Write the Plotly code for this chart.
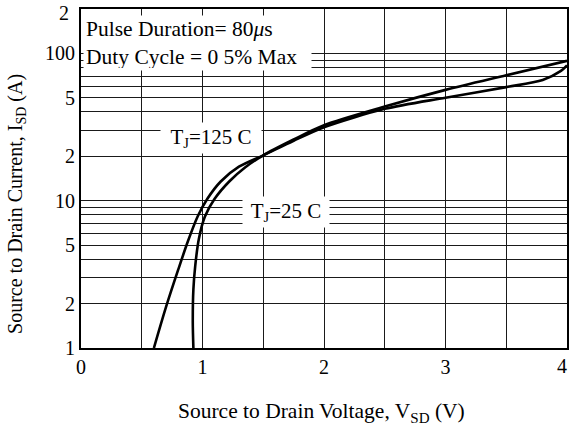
import plotly.graph_objects as go
import numpy as np

# Data
v_125 = [0.60, 0.70, 0.80, 0.88, 0.96, 1.04, 1.15, 1.30, 1.50, 1.75, 2.0, 2.5, 3.0, 3.5, 3.8, 3.95, 4.0]
i_125 = [1.0, 1.9, 3.4, 5.3, 7.8, 10.3, 13.5, 17.0, 20.3, 25.5, 31.5, 42.0, 50.0, 59.0, 66.0, 76.0, 83.0]

v_25 = [0.925, 0.92, 0.925, 0.94, 0.97, 1.02, 1.10, 1.22, 1.35, 1.50, 1.75, 2.0, 2.5, 3.0, 3.5, 4.0]
i_25 = [1.0, 1.5, 2.5, 3.6, 5.5, 7.8, 10.3, 13.5, 16.8, 20.3, 26.0, 32.5, 43.5, 56.5, 71.0, 89.0]

x_tickvals = [0, 0.5, 1, 1.5, 2, 2.5, 3, 3.5, 4]
x_ticktext = ["0", "", "1", "", "2", "", "3", "", ""]
x_edge_label = "4"   # drawn slightly inside the page, as in the reference

y_tickvals = [1, 2, 3, 4, 5, 6, 7, 8, 9, 10, 20, 30, 40, 50, 60, 70, 80, 90, 100, 200]
y_ticktext = ["1", "2", "", "", "5", "", "", "", "", "10", "2", "", "", "5", "", "", "", "", "100", ""]
y_edge_label = "2"   # label of 200, drawn slightly below the top edge, as in the reference

FONT = "Liberation Serif"
GRID = "#1a1a1a"

fig = go.Figure()
fig.add_trace(go.Scatter(x=v_125, y=i_125, mode="lines",
                         line=dict(color="black", width=2.6, shape="spline", smoothing=0.8),
                         showlegend=False, hoverinfo="skip"))
fig.add_trace(go.Scatter(x=v_25, y=i_25, mode="lines",
                         line=dict(color="black", width=2.6, shape="spline", smoothing=0.8),
                         showlegend=False, hoverinfo="skip"))

fig.update_xaxes(range=[0, 4], tickvals=x_tickvals, ticktext=x_ticktext,
                 showgrid=True, gridcolor=GRID, gridwidth=1,
                 showline=True, linecolor="black", linewidth=2, mirror=True,
                 ticks="", zeroline=False, ticklabeloverflow="allow", automargin=False,
                 tickfont=dict(family=FONT, size=20, color="black"))
fig.update_yaxes(type="log", range=[0, np.log10(200)], tickvals=y_tickvals, ticktext=y_ticktext,
                 showgrid=True, gridcolor=GRID, gridwidth=1,
                 showline=True, linecolor="black", linewidth=2, mirror=True,
                 ticks="", zeroline=False, ticklabeloverflow="allow", automargin=False,
                 tickfont=dict(family=FONT, size=20, color="black"))

annos = [
    dict(text="Pulse Duration= 80<i>μ</i>s<br>Duty Cycle = 0 5% Max",
         xref="paper", yref="paper", x=0, y=1, xanchor="left", yanchor="top",
         xshift=2, yshift=-6, align="left", width=223, height=50, borderpad=2,
         bgcolor="white", showarrow=False, font=dict(family=FONT, size=21.5, color="black")),
    dict(text="T<sub>J</sub>=125 C", xref="x", yref="y", x=1.07, y=np.log10(26.7),
         xanchor="center", yanchor="middle", width=96, height=26, borderpad=2,
         bgcolor="white", showarrow=False, font=dict(family=FONT, size=21, color="black")),
    dict(text="T<sub>J</sub>=25 C", xref="x", yref="y", x=1.69, y=np.log10(8.38),
         xanchor="center", yanchor="middle", width=82, height=26, borderpad=2,
         bgcolor="white", showarrow=False, font=dict(family=FONT, size=21, color="black")),
    dict(text="Source to Drain Voltage, V<sub>SD</sub> (V)", xref="paper", yref="paper",
         x=0.495, y=0, xanchor="center", yanchor="middle", yshift=-64, showarrow=False,
         font=dict(family=FONT, size=21.5, color="black")),
    dict(text="Source to Drain Current, I<sub>SD</sub> (A)", xref="paper", yref="paper",
         x=0, y=0.425, xanchor="center", yanchor="middle", xshift=-64, textangle=-90,
         showarrow=False, font=dict(family=FONT, size=20, color="black")),
    dict(text=x_edge_label, xref="x", yref="paper", x=4, y=0, xanchor="right", yanchor="middle",
         xshift=2, yshift=-18, showarrow=False, font=dict(family=FONT, size=20, color="black")),
    dict(text=y_edge_label, xref="paper", yref="y", x=0, y=np.log10(200), xanchor="right",
         yanchor="middle", xshift=-10, yshift=-4, showarrow=False,
         font=dict(family=FONT, size=20, color="black")),
]
fig.update_layout(width=570, height=428, margin=dict(l=81, r=3, t=9, b=80, autoexpand=False),
                  paper_bgcolor="white", plot_bgcolor="white", annotations=annos,
                  font=dict(family=FONT, size=20, color="black"))

fig.write_html("out.html")
